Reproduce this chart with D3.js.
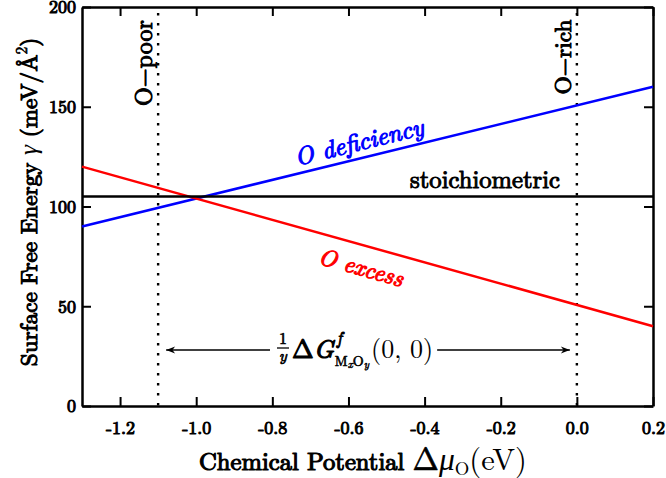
<!DOCTYPE html>
<html><head><meta charset="utf-8">
<script src="https://cdn.jsdelivr.net/npm/d3@7"></script>
<style>body{margin:0;background:#fff}svg{display:block}</style>
</head><body>
<script>
const xDomain = [-1.3, 0.2];
const yDomain = [0, 200];
const xTicks = [-1.2, -1.0, -0.8, -0.6, -0.4, -0.2, 0.0, 0.2];
const xTickLabels = ["-1.2", "-1.0", "-0.8", "-0.6", "-0.4", "-0.2", "0.0", "0.2"];
const yTicks = [0, 50, 100, 150, 200];
const seriesNames = ["O deficiency", "O excess", "stoichiometric"];
const seriesColors = ["#0000ff", "#ff0000", "#000000"];
const deficiencyPts = [[-1.3, 90], [0.2, 160]];
const excessPts = [[-1.3, 120], [0.2, 40]];
const stoichPts = [[-1.3, 105], [0.2, 105]];
const limits = [-1.1, 0.0];
const limitLabels = ["O\u2212poor", "O\u2212rich"];

const LM = "'Latin Modern Roman'";
const W = 666, H = 478;
const m = {l: 82, r: 13, t: 7, b: 72};
const svg = d3.select("body").append("svg").attr("width", W).attr("height", H);
const x = d3.scaleLinear().domain(xDomain).range([m.l, W - m.r]);
const y = d3.scaleLinear().domain(yDomain).range([H - m.b, m.t]);

const defs = svg.append("defs");
defs.append("marker").attr("id", "ah").attr("viewBox", "0 0 10 10").attr("refX", 10).attr("refY", 5)
  .attr("markerWidth", 10).attr("markerHeight", 9).attr("markerUnits", "userSpaceOnUse").attr("orient", "auto")
  .append("path").attr("d", "M0,1 L10,5 L0,9 L3,5 Z").attr("fill", "#000");

function F(sel, size, o) {
  o = o || {};
  sel.attr("font-family", LM).attr("font-size", size);
  if (o.italic) sel.attr("font-style", "italic");
  if (o.bold) sel.attr("stroke", o.color || "#000").attr("stroke-width", o.sw || size * 0.05).attr("stroke-linejoin", "round");
  if (o.color) sel.attr("fill", o.color);
  return sel;
}

function styleAxis(g) {
  g.attr("font-family", null).attr("font-size", null);
  g.selectAll("path").attr("stroke", "#000").attr("stroke-width", 2.5);
  g.selectAll("line").attr("stroke", "#000").attr("stroke-width", 2);
  F(g.selectAll("text"), 18, {bold: true, color: "#000", sw: 1.0});
}
const xb = svg.append("g").attr("transform", `translate(0,${y(0)})`)
  .call(d3.axisBottom(x).tickValues(xTicks).tickFormat((d, i) => xTickLabels[i]).tickSizeInner(-9).tickSizeOuter(0).tickPadding(15));
styleAxis(xb);
const xt = svg.append("g").attr("transform", `translate(0,${y(200)})`)
  .call(d3.axisTop(x).tickValues(xTicks).tickFormat("").tickSizeInner(-9).tickSizeOuter(0));
styleAxis(xt);
const yl = svg.append("g").attr("transform", `translate(${x(-1.3)},0)`)
  .call(d3.axisLeft(y).tickValues(yTicks).tickSizeInner(-9).tickSizeOuter(0).tickPadding(6));
styleAxis(yl);
const yr = svg.append("g").attr("transform", `translate(${x(0.2)},0)`)
  .call(d3.axisRight(y).tickValues(yTicks).tickFormat("").tickSizeInner(-9).tickSizeOuter(0));
styleAxis(yr);

svg.selectAll(".lim").data(limits).enter().append("line")
  .attr("x1", d => x(d)).attr("x2", d => x(d)).attr("y1", y(200) + 6).attr("y2", y(0))
  .attr("stroke", "#000").attr("stroke-width", 2.4).attr("stroke-dasharray", "2.4,7.6");

const line = d3.line().x(d => x(d[0])).y(d => y(d[1]));
[deficiencyPts, excessPts, stoichPts].forEach((pts, i) => {
  svg.append("path").datum(pts).attr("d", line).attr("fill", "none")
    .attr("stroke", seriesColors[i]).attr("stroke-width", 2.5);
});

function angleOf(pts) {
  return Math.atan2(y(pts[1][1]) - y(pts[0][1]), x(pts[1][0]) - x(pts[0][0])) * 180 / Math.PI;
}
function fitWidth(sel, target) {
  const len = sel.node().getComputedTextLength();
  const fs = +sel.attr("font-size");
  sel.attr("font-size", fs * target / len);
}
const tDef = F(svg.append("text"), 22, {bold: true, italic: true, color: seriesColors[0], sw: 1.1})
  .attr("transform", `translate(361,150) rotate(${angleOf(deficiencyPts)})`)
  .attr("text-anchor", "middle").text(seriesNames[0]);
fitWidth(tDef, 132);
const tExc = F(svg.append("text"), 22, {bold: true, italic: true, color: seriesColors[1], sw: 1.1})
  .attr("transform", `translate(359,275) rotate(${angleOf(excessPts)})`)
  .attr("text-anchor", "middle").text(seriesNames[1]);
fitWidth(tExc, 87);
const tSto = F(svg.append("text"), 21, {bold: true, color: "#000", sw: 1.0})
  .attr("x", 560).attr("y", 188).attr("text-anchor", "end").text(seriesNames[2]);
fitWidth(tSto, 150);

const tP = F(svg.append("text"), 21, {bold: true, color: "#000", sw: 1.0})
  .attr("transform", `translate(${x(limits[0]) - 6},63) rotate(-90)`)
  .attr("text-anchor", "middle").text(limitLabels[0]);
fitWidth(tP, 86);
const tR = F(svg.append("text"), 21, {bold: true, color: "#000", sw: 1.0})
  .attr("transform", `translate(${x(limits[1]) - 6},57) rotate(-90)`)
  .attr("text-anchor", "middle").text(limitLabels[1]);
fitWidth(tR, 75);

// math label
const ay = 350;
const mg = svg.append("g");
let cx = 277;
const base = 358;
F(mg.append("text"), 16, {bold: true, sw: 0.7}).attr("x", cx + 6).attr("y", 344).attr("text-anchor", "middle").text("1");
mg.append("line").attr("x1", cx).attr("x2", cx + 12).attr("y1", 348).attr("y2", 348).attr("stroke", "#000").attr("stroke-width", 1.3);
F(mg.append("text"), 16, {bold: true, italic: true, sw: 0.7}).attr("x", cx + 6).attr("y", 361).attr("text-anchor", "middle").text("y");
cx += 15;
const tD = F(mg.append("text"), 26, {bold: true, sw: 1.2}).attr("x", cx).attr("y", base).text("\u0394");
cx += tD.node().getComputedTextLength();
const tG = F(mg.append("text"), 26, {bold: true, italic: true, sw: 1.2}).attr("x", cx).attr("y", base).text("G");
cx += tG.node().getComputedTextLength() + 1;
const tf = F(mg.append("text"), 17, {bold: true, italic: true, sw: 0.8}).attr("x", cx + 2).attr("y", 344).text("f");
const sub = mg.append("text").attr("x", cx).attr("y", 366);
F(sub.append("tspan"), 14, {bold: true, sw: 0.6}).text("M");
F(sub.append("tspan"), 11, {bold: true, italic: true, sw: 0.5}).attr("dy", 2).text("x");
F(sub.append("tspan"), 14, {bold: true, sw: 0.6}).attr("dy", -2).text("O");
F(sub.append("tspan"), 11, {bold: true, italic: true, sw: 0.5}).attr("dy", 2).text("y");
cx += Math.max(sub.node().getComputedTextLength(), tf.node().getComputedTextLength()) + 2;
const tpar = F(mg.append("text"), 26).attr("x", cx).attr("y", base).text("(0, 0)");
cx += tpar.node().getComputedTextLength();

svg.append("line").attr("x1", 270).attr("x2", x(limits[0]) + 8).attr("y1", ay).attr("y2", ay)
  .attr("stroke", "#000").attr("stroke-width", 1.6).attr("marker-end", "url(#ah)");
svg.append("line").attr("x1", cx + 4).attr("x2", x(limits[1]) - 7).attr("y1", ay).attr("y2", ay)
  .attr("stroke", "#000").attr("stroke-width", 1.6).attr("marker-end", "url(#ah)");

// axis titles
const xtitle = svg.append("text").attr("x", 363).attr("y", 470).attr("text-anchor", "middle");
F(xtitle.append("tspan"), 21, {bold: true, sw: 1.0}).text("Chemical Potential ");
F(xtitle.append("tspan"), 27, {bold: true, sw: 0.6}).text("\u0394");
F(xtitle.append("tspan"), 27, {italic: true}).text("\u03bc");
F(xtitle.append("tspan"), 16).attr("dy", 4).text("O");
F(xtitle.append("tspan"), 26).attr("dy", -4).text("(eV)");
const xLen = xtitle.node().getComputedTextLength();
if (Math.abs(xLen - 328) > 6) xtitle.attr("transform", `translate(363,470) scale(${328 / xLen}) translate(-363,-470)`);

const ytitle = svg.append("text").attr("text-anchor", "middle");
F(ytitle.append("tspan"), 21, {bold: true, sw: 1.0}).text("Surface Free Energy ");
F(ytitle.append("tspan"), 23, {italic: true}).text("\u03b3");
F(ytitle.append("tspan"), 21, {bold: true, sw: 1.0}).text(" (meV/\u00c5");
F(ytitle.append("tspan"), 14, {bold: true, sw: 0.6}).attr("dy", -9).text("2");
F(ytitle.append("tspan"), 21, {bold: true, sw: 1.0}).attr("dy", 9).text(")");
const yLen = ytitle.node().getComputedTextLength();
const ys = Math.min(1.1, 380 / yLen);
ytitle.attr("transform", `translate(37,202) rotate(-90) scale(${ys})`);
</script>
</body></html>
